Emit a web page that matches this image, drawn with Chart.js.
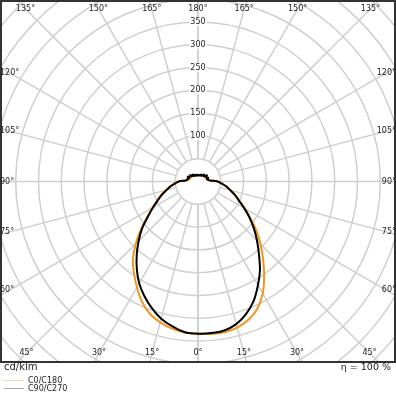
<!DOCTYPE html>
<html>
<head>
<meta charset="utf-8">
<script src="https://cdn.jsdelivr.net/npm/chart.js@4/dist/chart.umd.min.js"></script>
<style>
  html, body { margin: 0; padding: 0; background: #fff; }
  #wrap { position: relative; width: 396px; height: 396px; font-family: "DejaVu Sans", sans-serif; color: #222; }
  #wrap canvas { position: absolute; left: 0; top: 0; }
  .txt { position: absolute; white-space: nowrap; line-height: 1; }
  .leg { position: absolute; left: 4px; width: 20px; height: 0; border-top: 1.5px solid; }
</style>
</head>
<body>
<div id="wrap">
  <canvas id="chart" width="396" height="396"></canvas>
  <span class="txt" style="left:4px; top:362px; font-size:10px;">cd/klm</span>
  <span class="txt" style="right:5px; top:362px; font-size:9.5px;">η = 100 %</span>
  <div class="leg" style="top:380px; border-color:#f7d3ad;"></div>
  <span class="txt" style="left:28px; top:377px; font-size:8px;">C0/C180</span>
  <div class="leg" style="top:388px; border-color:#a8a8a8;"></div>
  <span class="txt" style="left:28px; top:385px; font-size:8px;">C90/C270</span>
</div>
<script>
// gamma angles (deg from nadir), 0..180 step 5
const angles = [0, 5, 10, 15, 20, 25, 30, 35, 40, 45, 50, 55, 60, 65, 70, 75, 80, 85, 90,
  95, 100, 105, 110, 115, 120, 125, 130, 135, 140, 145, 150, 155, 160, 165, 170, 175, 180];

// intensities in cd/klm
const c0 = [334, 336, 336, 332, 323, 308, 284, 253, 222, 194, 167, 140, 118, 100, 87, 74, 64, 53, 44,
  28, 22, 20, 19, 18, 18, 17, 17, 17, 16, 16, 16, 15, 15, 15, 15, 15, 15];
const c180 = [334, 333, 328, 320, 309, 291, 268, 245, 222, 193, 163, 136, 116, 99, 86, 72, 62, 52, 44,
  27, 21, 20, 19, 18, 18, 17, 17, 17, 16, 16, 16, 15, 15, 15, 15, 15, 15];
const c90 = [334, 334, 332, 324, 309, 289, 263, 237, 208, 183, 160, 138, 117, 99, 86, 73, 63, 52, 43,
  26, 22, 20, 24, 22, 20, 24, 19, 17, 20, 16, 15, 17, 14, 15, 14, 13, 14];
const c270 = [334, 332, 323, 312, 296, 278, 258, 234, 209, 184, 160, 134, 114, 97, 84, 71, 61, 51, 42,
  27, 23, 24, 21, 25, 22, 19, 22, 18, 16, 19, 15, 14, 16, 14, 13, 15, 14];

const ringValues = [50, 100, 150, 200, 250, 300, 350, 400, 450, 500, 550, 600];
const ringLabels = [100, 150, 200, 250, 300, 350];
const spokeAngles = [0, 15, 30, 45, 60, 75, 90, 105, 120, 135, 150, 165, 180];

// left half runs 180 -> 0, right half 0 -> 180
function curve(right, left) {
  const pts = [];
  for (let i = angles.length - 1; i >= 0; i--) {
    const a = angles[i] * Math.PI / 180;
    pts.push({ x: -left[i] * Math.sin(a), y: -left[i] * Math.cos(a) });
  }
  for (let i = 1; i < angles.length; i++) {
    const a = angles[i] * Math.PI / 180;
    pts.push({ x: right[i] * Math.sin(a), y: -right[i] * Math.cos(a) });
  }
  return pts;
}

const polarGrid = {
  id: 'polarGrid',
  beforeDatasetsDraw(chart) {
    const { ctx, chartArea: ca, scales: { x, y } } = chart;
    const cx = x.getPixelForValue(0), cy = y.getPixelForValue(0);
    const k = x.getPixelForValue(100) - cx;
    ctx.save();
    ctx.beginPath();
    ctx.rect(ca.left, ca.top, ca.right - ca.left, ca.bottom - ca.top);
    ctx.clip();
    ctx.strokeStyle = '#cfcfcf';
    ctx.lineWidth = 1.5;
    ringValues.forEach(v => {
      ctx.beginPath();
      ctx.arc(cx, cy, v * k / 100, 0, Math.PI * 2);
      ctx.stroke();
    });
    spokeAngles.forEach(g => {
      const a = g * Math.PI / 180;
      [1, -1].forEach(s => {
        const r0 = 50 * k / 100, r1 = 1200 * k / 100;
        ctx.beginPath();
        ctx.moveTo(cx + s * r0 * Math.sin(a), cy + r0 * Math.cos(a));
        ctx.lineTo(cx + s * r1 * Math.sin(a), cy + r1 * Math.cos(a));
        ctx.stroke();
      });
    });
    // ring value labels on the upward axis
    ctx.font = '8px "DejaVu Sans"';
    ctx.textAlign = 'center';
    ctx.textBaseline = 'middle';
    ringLabels.forEach(v => {
      const py = cy - v * k / 100;
      const w = ctx.measureText(String(v)).width;
      ctx.fillStyle = '#fff';
      ctx.fillRect(cx - w / 2 - 1, py - 4, w + 2, 8);
      ctx.fillStyle = '#222';
      ctx.fillText(String(v), cx, py);
    });
    ctx.restore();
  },
  afterDraw(chart) {
    const { ctx, chartArea: ca, scales: { x, y } } = chart;
    const cx = x.getPixelForValue(0), cy = y.getPixelForValue(0);
    ctx.save();
    ctx.strokeStyle = '#333';
    ctx.lineWidth = 2;
    ctx.strokeRect(ca.left - 1, ca.top - 1, ca.right - ca.left + 2, ca.bottom - ca.top + 2);
    ctx.font = '8px "DejaVu Sans"';
    ctx.fillStyle = '#222';
    ctx.textBaseline = 'middle';
    spokeAngles.forEach(g => {
      const a = g * Math.PI / 180;
      const sx = Math.sin(a), sy = Math.cos(a);
      [1, -1].forEach(s => {
        if (g === 0 && s < 0) return;
        if (g === 180 && s < 0) return;
        const label = g + '°';
        // top / bottom rows
        if (Math.abs(sy) > 0.7) {
          const ly = sy < 0 ? ca.top + 7 : ca.bottom - 8;
          const px = cx + s * (ly - cy) / sy * sx;
          ctx.textAlign = 'center';
          ctx.fillText(label, px, ly);
        } else {
          const lx = s > 0 ? ca.right - 8 : ca.left + 8;
          const py = cy + Math.abs(lx - cx) / sx * sy;
          ctx.textAlign = s > 0 ? 'right' : 'left';
          ctx.fillText(label, s > 0 ? ca.right + 2 : ca.left - 2, py);
        }
      });
    });
    ctx.restore();
  }
};

new Chart(document.getElementById('chart'), {
  type: 'scatter',
  data: {
    datasets: [
      { label: 'C0/C180', data: curve(c0, c180), borderColor: '#f0961e', order: 1 },
      { label: 'C90/C270', data: curve(c90, c270), borderColor: '#000000', order: 0 }
    ]
  },
  options: {
    responsive: false,
    animation: false,
    devicePixelRatio: 1,
    layout: { padding: { left: 2, top: 2, right: 2, bottom: 35 } },
    elements: {
      line: { borderWidth: 2, tension: 0.3, fill: false },
      point: { radius: 0 }
    },
    datasets: { scatter: { showLine: true } },
    scales: {
      x: { type: 'linear', min: -430, max: 430, display: false },
      y: { type: 'linear', min: -394, max: 394, display: false }
    },
    plugins: { legend: { display: false }, tooltip: { enabled: false } }
  },
  plugins: [polarGrid]
});
</script>
</body>
</html>
